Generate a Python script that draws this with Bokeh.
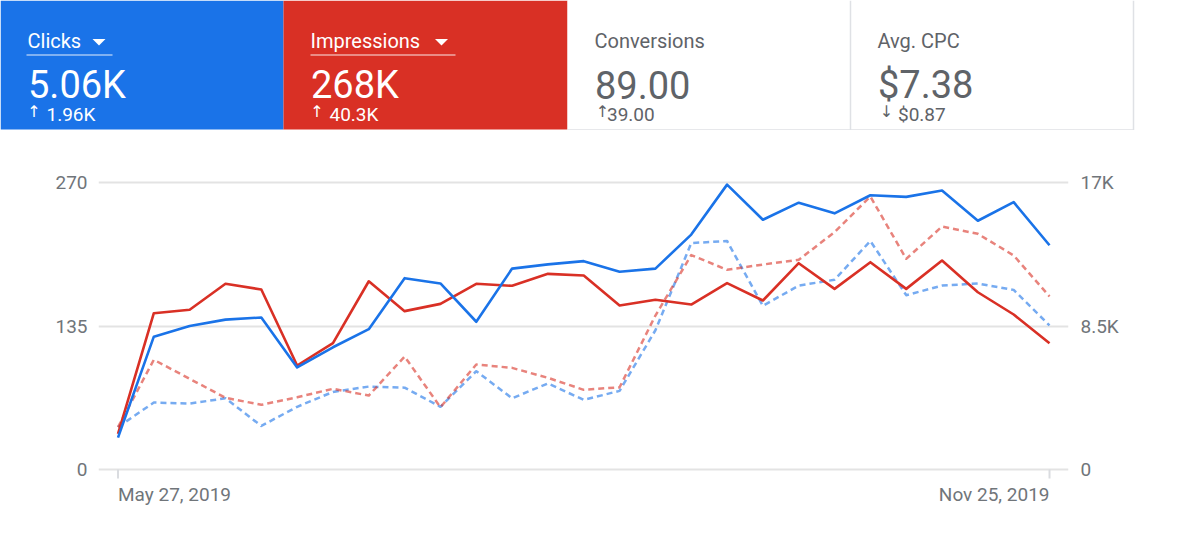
import pandas as pd
from bokeh.plotting import figure
from bokeh.models import Range1d, LinearAxis, FixedTicker, ColumnDataSource
from bokeh.core.properties import value
from bokeh.embed import file_html
from bokeh.resources import INLINE

# ---------------- data ----------------
start_date = "2019-05-27"
n_weeks = 27
dates = pd.date_range(start_date, periods=n_weeks, freq="7D")

clicks = [30, 125, 135, 141, 143, 96, 115, 132, 180, 175, 139, 189, 193, 196, 186,
          189, 221, 268, 235, 251, 241, 258, 256.5, 262.5, 234, 251.5, 211]
impressions = [2115, 9260, 9460, 11000, 10660, 6160, 7480, 11150, 9380, 9810, 11000,
               10880, 11590, 11490, 9710, 10050, 9770, 11040, 10010, 12220, 10700,
               12280, 10700, 12380, 10500, 9180, 7480]
prev_clicks = [40, 63, 62, 67, 41, 59, 73, 78, 77, 59, 92.5, 67, 81, 65.5, 74, 131,
               213, 215, 154, 173, 178.5, 215, 164, 173, 175, 169, 135.5]
prev_impressions = [2510, 6500, 5370, 4250, 3830, 4280, 4780, 4380, 6690, 3690, 6220,
                    6020, 5430, 4720, 4870, 9120, 12700, 11830, 12140, 12420, 14060,
                    16170, 12480, 14390, 13960, 12680, 10250]

left_ticks = [0, 135, 270]
right_ticks = [0, 8500, 17000]
right_tick_labels = ["0", "8.5K", "17K"]
date_labels = ["May 27, 2019", "Nov 25, 2019"]

card_titles = ["Clicks", "Impressions", "Conversions", "Avg. CPC"]
card_values = ["5.06K", "268K", "89.00", "$7.38"]
card_arrows = ["\u2191", "\u2191", "\u2191", "\u2193"]
card_changes = ["1.96K", "40.3K", "39.00", "$0.87"]

# ---------------- styles ----------------
FONT = "Roboto"
BLUE = "#1a73e8"
RED = "#d93025"
GREY_TXT = "#5f6368"
AXIS_TXT = "#70757a"
GRID = "#e3e3e3"
BORDER = "#dfe1e5"
W = 1200

card_left = [0, 283, 567, 850]
card_right = [283, 567, 850, 1133]
card_fill = [BLUE, RED, "#ffffff", "#ffffff"]
card_text = ["#ffffff", "#ffffff", GREY_TXT, GREY_TXT]
arrow_dx = [33.5, 33.5, 35, 36]
change_dx = [46, 46, 39.5, 47.5]

# ---------------- header (metric cards) ----------------
header = figure(width=W, height=130, x_range=Range1d(0, W), y_range=Range1d(130, 0),
                toolbar_location=None, output_backend="svg", min_border=0,
                x_axis_location=None, y_axis_location=None, outline_line_color=None,
                background_fill_color="#ffffff", border_fill_color="#ffffff",
                styles={"position": "absolute", "left": "0px", "top": "0px"})
header.grid.visible = False

header.quad(left=card_left, right=card_right, top=0, bottom=129,
            fill_color=card_fill, line_color=None)
header.segment(x0=[567, 850, 1133], y0=[129.5, 0, 0], x1=[1133, 850, 1133],
               y1=[129.5, 130, 130], line_color=BORDER, line_width=1.5)

header.text(x=[l + 27 for l in card_left], y=[40.5] * 4, text=card_titles,
            text_color=card_text, text_font=value(FONT), text_font_size="20px",
            text_baseline="alphabetic")
header.text(x=[l + 27.5 for l in card_left], y=[84.5] * 4, text=card_values,
            text_color=card_text, text_font=value(FONT), text_font_size="38px",
            text_baseline="alphabetic")
header.text(x=[l + d for l, d in zip(card_left, arrow_dx)], y=[110.5] * 4, text=card_arrows,
            text_color=card_text, text_font=value("DejaVu Sans"), text_font_size="16px",
            text_baseline="alphabetic", text_align="center")
header.text(x=[l + d for l, d in zip(card_left, change_dx)], y=[113.5] * 4, text=card_changes,
            text_color=card_text, text_font=value(FONT), text_font_size="19px",
            text_baseline="alphabetic")

# dropdown triangles + underline for the two selected metrics
tri_c = [98.5, 441]
header.patches(xs=[[c - 6.5, c + 6.5, c] for c in tri_c],
               ys=[[38.5, 38.5, 45] for _ in tri_c],
               fill_color="#ffffff", line_color=None)
header.segment(x0=[26, 310], y0=[54.5, 54.5], x1=[112, 455], y1=[54.5, 54.5],
               line_color="#ffffff", line_alpha=0.6, line_width=1.5)

# ---------------- chart ----------------
src = ColumnDataSource(dict(date=dates, clicks=clicks, impressions=impressions,
                            prev_clicks=prev_clicks, prev_impressions=prev_impressions))

ms0 = dates[0].value / 1e6
ms1 = dates[-1].value / 1e6
day = 86400000.0
k_left = 270 / 287.0      # data units per pixel (left axis)
k_right = 17000 / 287.0   # data units per pixel (right axis)

chart = figure(width=W, height=405, x_axis_type="datetime",
               x_range=Range1d(ms0 - 3.81 * day, ms1 + 3.71 * day),
               y_range=Range1d(-46 * k_left, 299 * k_left),
               toolbar_location=None, output_backend="svg", x_axis_location=None,
               min_border_left=98, min_border_right=132, min_border_top=40,
               min_border_bottom=20, outline_line_color=None,
               background_fill_color="#ffffff", border_fill_color="#ffffff",
               styles={"position": "absolute", "left": "0px", "top": "130px"})
chart.extra_y_ranges = {"imp": Range1d(-46 * k_right, 299 * k_right)}

chart.xgrid.visible = False
chart.ygrid.ticker = FixedTicker(ticks=left_ticks)
chart.ygrid.grid_line_color = GRID
chart.ygrid.grid_line_width = 2

ya = chart.yaxis[0]
ya.ticker = FixedTicker(ticks=left_ticks)
ya.axis_line_color = None
ya.major_tick_line_color = None
ya.minor_tick_line_color = None
ya.major_tick_out = 0
ya.major_tick_in = 0
ya.major_label_standoff = 11
ya.major_label_text_font = FONT
ya.major_label_text_font_size = "19px"
ya.major_label_text_color = AXIS_TXT

ra = LinearAxis(y_range_name="imp", ticker=FixedTicker(ticks=right_ticks),
                major_label_overrides=dict(zip(right_ticks, right_tick_labels)))
ra.axis_line_color = None
ra.major_tick_line_color = None
ra.minor_tick_line_color = None
ra.major_tick_out = 0
ra.major_tick_in = 0
ra.major_label_standoff = 12
ra.major_label_text_font = FONT
ra.major_label_text_font_size = "19px"
ra.major_label_text_color = AXIS_TXT
chart.add_layout(ra, "right")

# date ticks and labels at the first and last week
tick_x = [ms0, ms1]
chart.segment(x0=tick_x, y0=[0, 0], x1=tick_x, y1=[-9 * k_left] * 2,
              line_color="#dadce0", line_width=2)
chart.text(x=tick_x, y=[-24.5 * k_left] * 2, text=date_labels, text_align=["left", "right"],
           text_baseline="alphabetic", text_font=value(FONT), text_font_size="19px",
           text_color=AXIS_TXT)

chart.line("date", "prev_clicks", source=src, line_color=BLUE, line_alpha=0.6,
           line_width=2.5, line_dash="6 4", line_join="round")
chart.line("date", "prev_impressions", source=src, y_range_name="imp", line_color=RED,
           line_alpha=0.6, line_width=2.5, line_dash="6 4", line_join="round")
chart.line("date", "impressions", source=src, y_range_name="imp", line_color=RED,
           line_width=2.6, line_join="round")
chart.line("date", "clicks", source=src, line_color=BLUE, line_width=2.6,
           line_join="round")

open("out.html", "w").write(file_html([header, chart], INLINE))
